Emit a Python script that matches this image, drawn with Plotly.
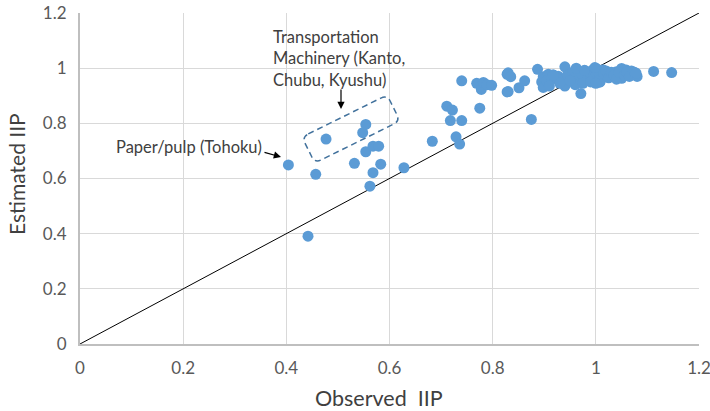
import math
import plotly.graph_objects as go

# Observed vs. estimated industrial production index (IIP) by industry/region
observed = [
    0.404, 0.442, 0.457, 0.477, 0.532, 0.548, 0.554, 0.554, 0.562, 0.568,
    0.568, 0.579, 0.583, 0.628, 0.683, 0.711, 0.718, 0.722, 0.729, 0.736,
    0.740, 0.740, 0.769, 0.775, 0.778, 0.782, 0.789, 0.798, 0.828, 0.828,
    0.830, 0.835, 0.830, 0.851, 0.862, 0.875, 0.887, 0.895, 0.898, 0.898,
    0.908, 0.917, 0.927, 0.940, 0.940, 0.953, 0.969, 0.971, 0.982, 0.995,
    1.008, 1.001, 1.014, 1.021, 1.001, 1.014, 1.008, 1.027, 1.040, 1.050,
    1.050, 1.059, 1.072, 1.069, 1.112, 1.147,
    0.905, 0.915, 0.925, 0.935, 0.945, 0.955, 0.960, 0.965, 0.975, 0.980,
    0.985, 0.990, 0.995, 1.000, 1.005, 1.010, 1.015, 1.020, 1.025, 1.030,
    1.035, 1.040, 1.045, 1.055, 1.060, 1.065, 1.075, 1.080, 0.960, 0.975,
    0.990, 1.000, 0.930, 0.910, 0.950, 0.962, 0.978, 0.998, 0.918, 1.078,
]
estimated = [
    0.649, 0.391, 0.615, 0.743, 0.655, 0.766, 0.697, 0.796, 0.572, 0.717,
    0.621, 0.717, 0.652, 0.639, 0.735, 0.862, 0.810, 0.848, 0.751, 0.725,
    0.810, 0.954, 0.945, 0.855, 0.923, 0.948, 0.940, 0.938, 0.978, 0.914,
    0.983, 0.969, 0.915, 0.929, 0.954, 0.814, 0.996, 0.950, 0.969, 0.930,
    0.978, 0.975, 0.971, 1.005, 0.935, 0.969, 0.987, 0.908, 0.969, 0.957,
    0.950, 0.999, 0.993, 0.975, 0.981, 0.993, 0.950, 0.975, 0.987, 0.999,
    0.963, 0.993, 0.978, 0.990, 0.988, 0.984,
    0.955, 0.960, 0.965, 0.960, 0.975, 0.985, 0.970, 0.955, 0.975, 0.990,
    0.960, 0.980, 0.995, 0.970, 0.985, 0.960, 0.980, 0.990, 0.965, 0.985,
    0.975, 0.960, 0.985, 0.975, 0.985, 0.970, 0.985, 0.970, 0.940, 0.945,
    0.950, 0.945, 0.945, 0.935, 0.955, 1.000, 0.992, 1.002, 0.975, 0.982,
]

tick_vals = [0, 0.2, 0.4, 0.6, 0.8, 1.0, 1.2]
tick_text = ["0", "0.2", "0.4", "0.6", "0.8", "1", "1.2"]
axis_range = [0, 1.2]

# Figure geometry (pixels)
W, H = 710, 411
ML, MR, MT, MB = 80, 11, 13, 67
PW, PH = W - ML - MR, H - MT - MB


def px_to_paper(px, py):
    return (px - ML) / PW, (H - MB - py) / PH


def px_to_data(px, py):
    fx, fy = px_to_paper(px, py)
    return fx * axis_range[1], fy * axis_range[1]


def rounded_box_path(cx, cy, length, height, angle_deg, r):
    """Rotated rounded rectangle, built in pixel space, returned in data coords."""
    a = math.radians(angle_deg)
    ux, uy = math.cos(a), math.sin(a)
    vx, vy = -math.sin(a), math.cos(a)

    def pt(s, t):
        return px_to_data(cx + s * ux + t * vx, cy + s * uy + t * vy)

    hl, hh = length / 2, height / 2
    seq = [
        ("M", pt(-hl + r, -hh)),
        ("L", pt(hl - r, -hh)), ("Q", pt(hl, -hh), pt(hl, -hh + r)),
        ("L", pt(hl, hh - r)), ("Q", pt(hl, hh), pt(hl - r, hh)),
        ("L", pt(-hl + r, hh)), ("Q", pt(-hl, hh), pt(-hl, hh - r)),
        ("L", pt(-hl, -hh + r)), ("Q", pt(-hl, -hh), pt(-hl + r, -hh)),
    ]
    parts = []
    for item in seq:
        cmd, pts = item[0], item[1:]
        parts.append(cmd + " " + " ".join(f"{p[0]:.5f},{p[1]:.5f}" for p in pts))
    return " ".join(parts) + " Z"


fig = go.Figure()

# 45-degree reference line
fig.add_trace(go.Scatter(
    x=axis_range, y=axis_range, mode="lines",
    line=dict(color="#000000", width=1), hoverinfo="skip", showlegend=False,
))

fig.add_trace(go.Scatter(
    x=observed, y=estimated, mode="markers",
    marker=dict(color="#5B9BD5", size=11, line=dict(width=0)),
    showlegend=False,
))

font_family = "Lato, 'Open Sans', sans-serif"

# Dashed outline around the transportation machinery points
fig.add_shape(
    type="path",
    path=rounded_box_path(351, 129, 95, 29, -26.3, 7),
    xref="x", yref="y",
    line=dict(color="#41719C", width=1.5, dash="6px,4px"),
    fillcolor="rgba(0,0,0,0)",
)

tx, ty = px_to_data(271, 25)
fig.add_annotation(
    x=tx, y=ty, xref="x", yref="y", xanchor="left", yanchor="top",
    text="Transportation<br>Machinery (Kanto,<br>Chubu, Kyushu)",
    align="left", showarrow=False,
    font=dict(family=font_family, size=16.5, color="#404040"),
)
hx, hy = px_to_data(341, 109)
fig.add_annotation(
    x=hx, y=hy, xref="x", yref="y", text="", showarrow=True,
    ax=0, ay=-21, arrowhead=2, arrowsize=1.2, arrowwidth=1.2, arrowcolor="#000000",
)

px_, py_ = px_to_data(264, 147)
fig.add_annotation(
    x=px_, y=py_, xref="x", yref="y", xanchor="right", yanchor="middle",
    text="Paper/pulp (Tohoku)", showarrow=False,
    font=dict(family=font_family, size=16.5, color="#404040"),
)
hx2, hy2 = px_to_data(281, 157)
fig.add_annotation(
    x=hx2, y=hy2, xref="x", yref="y", text="", showarrow=True,
    ax=-18, ay=-5, arrowhead=2, arrowsize=1.2, arrowwidth=1.2, arrowcolor="#000000",
)

# Axis titles
xt_x, xt_y = px_to_paper(379, 398)
fig.add_annotation(
    x=xt_x, y=xt_y, xref="paper", yref="paper",
    xanchor="center", yanchor="middle", showarrow=False,
    text="Observed\u00a0\u00a0IIP",
    font=dict(family=font_family, size=21.5, color="#404040"),
)
yt_x, yt_y = px_to_paper(17, 174)
fig.add_annotation(
    x=yt_x, y=yt_y, xref="paper", yref="paper",
    xanchor="center", yanchor="middle", showarrow=False, textangle=-90,
    text="Estimated IIP",
    font=dict(family=font_family, size=21, color="#404040"),
)

axis_common = dict(
    range=axis_range, tickmode="array", tickvals=tick_vals, ticktext=tick_text,
    showgrid=True, gridcolor="#D9D9D9", gridwidth=1.3, zeroline=False,
    showline=True, linecolor="#BFBFBF", linewidth=2, ticks="",
    tickfont=dict(family=font_family, size=17, color="#595959"),
    fixedrange=True, automargin=False, ticklabeloverflow="allow",
    ticklabelstandoff=8,
)

fig.update_xaxes(**axis_common)
fig.update_yaxes(**axis_common)

fig.update_layout(
    width=W, height=H,
    margin=dict(l=ML, r=MR, t=MT, b=MB),
    plot_bgcolor="#FFFFFF", paper_bgcolor="#FFFFFF",
    showlegend=False,
)

fig.write_html("out.html")
